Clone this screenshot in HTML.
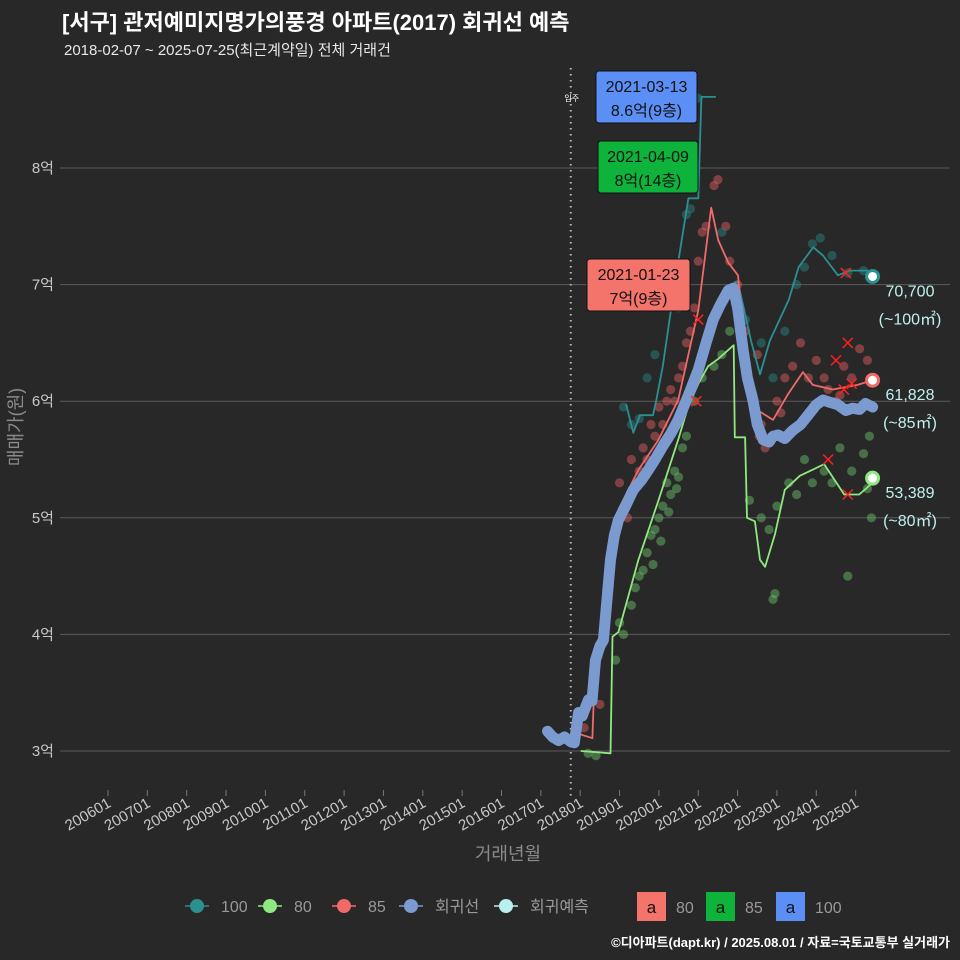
<!DOCTYPE html>
<html><head><meta charset="utf-8">
<style>
html,body{margin:0;padding:0;background:#282829;}
svg{display:block;font-family:"Liberation Sans","Noto Sans CJK KR",sans-serif;}
</style></head>
<body>
<svg id="chart" width="960" height="960" viewBox="0 0 960 960">
<rect width="960" height="960" fill="#282829"/>
<text x="62" y="30" font-size="22" font-weight="bold" fill="#fff">[서구] 관저예미지명가의풍경 아파트(2017) 회귀선 예측</text>
<text x="64" y="55" font-size="15" fill="#e8e8e8">2018-02-07 ~ 2025-07-25(최근계약일) 전체 거래건</text>
<g id="grid"></g>
<g id="yaxis"></g>
<g id="xaxis"></g>
<text transform="translate(22,427) rotate(-90)" text-anchor="middle" font-size="18" fill="#8a8a8a">매매가(원)</text>
<text x="508" y="860" text-anchor="middle" font-size="18" fill="#8a8a8a">거래년월</text>
<g id="marks"></g>
<g id="legend"></g>
<text x="950" y="947" text-anchor="end" font-size="13" font-weight="bold" fill="#fff">©디아파트(dapt.kr) / 2025.08.01 / 자료=국토교통부 실거래가</text>
</svg>
<script>
const yTicks=[3,4,5,6,7,8];
const yTickLabels=['3억','4억','5억','6억','7억','8억'];
const xTickYears=[2006,2007,2008,2009,2010,2011,2012,2013,2014,2015,2016,2017,2018,2019,2020,2021,2022,2023,2024,2025];
const xTickLabels=['200601','200701','200801','200901','201001','201101','201201','201301','201401','201501','201601','201701','201801','201901','202001','202101','202201','202301','202401','202501'];
const trendYears=[2017.17,2017.3,2017.45,2017.6,2017.76,2017.85,2017.96,2018.05,2018.21,2018.3,2018.39,2018.5,2018.59,2018.68,2018.77,2018.87,2018.97,2019.15,2019.35,2019.55,2019.73,2019.9,2020.11,2020.3,2020.49,2020.75,2021.0,2021.2,2021.38,2021.55,2021.76,2021.89,2022.0,2022.14,2022.25,2022.39,2022.5,2022.65,2022.8,2022.9,2023.03,2023.2,2023.4,2023.6,2023.79,2024.0,2024.17,2024.35,2024.55,2024.75,2024.92,2025.1,2025.25,2025.43];
const trendValues=[3.17,3.12,3.09,3.12,3.08,3.07,3.33,3.3,3.44,3.43,3.78,3.9,3.95,4.3,4.64,4.85,4.98,5.1,5.24,5.32,5.41,5.5,5.62,5.72,5.84,6.05,6.27,6.5,6.7,6.82,6.95,6.97,6.8,6.44,6.2,6.01,5.8,5.67,5.65,5.7,5.71,5.68,5.75,5.8,5.88,5.97,6.01,5.99,5.97,5.92,5.94,5.93,5.98,5.95];
const red85Years=[2018.03,2018.31,2018.39,2018.59,2018.72,2018.97,2019.48,2019.99,2020.49,2021.0,2021.33,2021.51,2021.76,2022.01,2022.14,2022.27,2022.52,2022.9,2023.28,2023.66,2023.91,2024.42,2025.05,2025.43];
const red85Values=[3.14,3.11,3.86,3.9,4.64,5.07,5.41,5.67,6.01,6.78,7.66,7.38,7.19,7.08,6.61,6.01,5.92,5.84,6.06,6.25,6.14,6.1,6.14,6.18];
const green80Years=[2018.03,2018.77,2018.82,2018.97,2019.48,2019.99,2020.49,2020.74,2021.0,2021.25,2021.5,2021.9,2021.93,2022.19,2022.24,2022.44,2022.57,2022.7,2022.95,2023.2,2023.58,2024.2,2024.71,2025.09,2025.43];
const green80Values=[3.0,2.98,3.98,4.02,4.64,5.15,5.67,5.95,6.15,6.3,6.36,6.48,5.69,5.69,5.0,4.97,4.64,4.58,4.86,5.24,5.36,5.46,5.2,5.2,5.3];
const teal100Years=[2019.17,2019.35,2019.52,2019.85,2019.93,2020.1,2020.4,2020.75,2021.0,2021.08,2021.43,null,2021.93,2022.01,2022.34,2022.57,2022.82,2023.3,2023.55,2023.92,2024.17,2024.55,2024.85,2025.3];
const teal100Values=[5.97,5.73,5.88,5.88,6.0,6.3,7.0,7.74,7.74,8.61,8.61,null,7.02,7.02,6.52,6.23,6.52,6.87,7.15,7.32,7.25,7.08,7.12,7.12];
const tealDotsY=[2019.1,2019.3,2019.5,2019.7,2019.9,2020.5,2020.7,2020.8,2021.0,2021.6,2022.2,2022.6,2022.9,2023.2,2023.5,2023.7,2023.9,2024.1,2024.4,2024.8,2025.2];
const tealDotsV=[5.95,5.8,5.85,6.2,6.4,6.8,7.6,7.65,8.6,7.45,6.7,6.5,6.2,6.6,7.0,7.15,7.35,7.4,7.25,7.1,7.12];
const redDotsY=[2018.1,2018.5,2018.9,2019.0,2019.2,2019.3,2019.5,2019.6,2019.8,2019.9,2020.0,2020.2,2020.3,2020.5,2020.6,2020.7,2020.9,2021.0,2021.1,2021.2,2021.4,2021.5,2021.7,2021.8,2022.0,2022.2,2022.5,2022.6,2022.7,2023.0,2023.2,2023.4,2023.6,2023.8,2024.0,2024.3,2024.5,2024.7,2024.9,2025.1,2025.3,2025.4,2019.4,2019.7,2020.1,2020.4,2020.8,2022.55,2023.1,2024.2,2024.6];
const redDotsV=[3.2,3.4,4.9,5.3,5.0,5.5,5.4,5.6,5.8,5.7,5.95,6.0,6.1,6.2,6.3,6.5,6.8,7.2,7.45,7.5,7.85,7.9,7.5,7.2,7.0,6.6,6.4,5.8,5.6,6.0,6.2,6.3,6.5,6.2,6.35,6.1,6.0,6.3,6.2,6.45,6.35,6.2,5.25,5.5,5.8,6.0,6.6,5.7,5.9,6.2,6.05];
const greenDotsY=[2018.2,2018.4,2018.9,2019.0,2019.1,2019.3,2019.4,2019.5,2019.6,2019.7,2019.8,2019.9,2020.0,2020.1,2020.2,2020.3,2020.4,2020.5,2020.6,2020.7,2020.9,2021.1,2021.4,2021.6,2021.8,2022.3,2022.6,2022.8,2022.9,2022.95,2023.0,2023.3,2023.5,2023.7,2023.9,2024.2,2024.4,2024.6,2024.8,2024.9,2025.2,2025.3,2025.4,2025.35,2019.85,2020.05,2020.25,2020.45];
const greenDotsV=[2.98,2.96,3.78,4.1,4.0,4.25,4.4,4.5,4.55,4.7,4.85,4.9,5.0,5.1,5.3,5.2,5.4,5.35,5.6,5.7,6.0,6.2,6.3,6.4,6.6,5.15,5.0,4.9,4.3,4.35,5.1,5.3,5.2,5.5,5.3,5.4,5.3,5.6,4.5,5.4,5.55,5.25,5.0,5.7,4.6,4.8,5.05,5.25];
const cancelY=[2021.0,2020.95,2024.3,2024.5,2024.8,2024.75,2024.7,2024.9,2024.8];
const cancelV=[6.7,6.0,5.5,6.35,6.5,7.1,6.1,6.15,5.2];
const endLabels=['70,700','61,828','53,389'];
const endAreas=['(~100㎡)','(~85㎡)','(~80㎡)'];

const NS='http://www.w3.org/2000/svg';
function X(yr){return 108+(yr-2006)*39.35;}
function Y(v){return 751-(v-3)*116.6;}
function mk(tag,attrs,parent){const e=document.createElementNS(NS,tag);for(const k in attrs)e.setAttribute(k,attrs[k]);parent.appendChild(e);return e;}
const grid=document.getElementById('grid'),ya=document.getElementById('yaxis'),xa=document.getElementById('xaxis'),marks=document.getElementById('marks'),leg=document.getElementById('legend');

yTicks.forEach((t,i)=>{
  const l=mk('line',{x1:60,x2:950,y1:Y(t),y2:Y(t),stroke:'#5a5a5a','stroke-width':1},grid);
  
  
  const tx=mk('text',{x:54,y:Y(t)+5,'text-anchor':'end','font-size':15,fill:'#c8c8c8'},ya);
  tx.textContent=yTickLabels[i];
  
  
});
xTickYears.forEach((yr,i)=>{
  const x=X(yr);
  const tk=mk('line',{x1:x,x2:x,y1:790,y2:796,stroke:'#777'},xa);
  
  
  const tx=mk('text',{transform:`translate(${x+4},${806}) rotate(-30)`,'text-anchor':'end','font-size':15,fill:'#c8c8c8'},xa);
  tx.textContent=xTickLabels[i];
  
  
});

const mv=mk('line',{x1:X(2017.76),x2:X(2017.76),y1:68,y2:800,stroke:'#bbb','stroke-width':2,'stroke-dasharray':'1.5 4.5'},marks);


const mvt=mk('text',{x:X(2017.76)+1,y:101,'text-anchor':'middle','font-size':8,fill:'#fff'},marks);
mvt.textContent='입주';



function dots(ys,vs,color,name){
  ys.forEach((yr,i)=>{
    const c=mk('circle',{cx:X(yr),cy:Y(vs[i]),r:4.6,fill:color,'fill-opacity':0.45},marks);
    
    
  });
}
dots(greenDotsY,greenDotsV,'#6cc86c','dot-80');
dots(redDotsY,redDotsV,'#e86060','dot-85');
dots(tealDotsY,tealDotsV,'#2a8a8a','dot-100');

function stepPath(ys,vs){
  let d='',start=true;
  ys.forEach((yr,i)=>{
    if(yr===null){start=true;return;}
    d+=(start?'M':'L')+X(yr).toFixed(1)+','+Y(vs[i]).toFixed(1)+' ';start=false;
  });
  return d;
}
function line(ys,vs,color,w,name){
  const p=mk('path',{d:stepPath(ys,vs),fill:'none',stroke:color,'stroke-width':w,'stroke-linejoin':'round','stroke-linecap':'round'},marks);
  
  
}
line(teal100Years,teal100Values,'#2b9090',1.8,'line-100');
line(green80Years,green80Values,'#90e880',1.8,'line-80');
line(red85Years,red85Values,'#f06a6a',1.8,'line-85');
line(trendYears,trendValues,'#7b9bd0',11,'trend-line');

cancelY.forEach((yr,i)=>{
  const x=X(yr),y=Y(cancelV[i]);
  const g=mk('path',{d:`M${x-5},${y-5}L${x+5},${y+5}M${x+5},${y-5}L${x-5},${y+5}`,stroke:'#ff2020','stroke-width':1.5},marks);
  
  
});

const endColors=['#2b9090','#f06a6a','#90e880'];
const endVals=[7.07,6.18,5.34];
endVals.forEach((v,i)=>{
  const x=X(2025.43),y=Y(v);
  const c=mk('circle',{cx:x,cy:y,r:6,fill:'#fff',stroke:endColors[i],'stroke-width':3},marks);
  
  
  const t1=mk('text',{x:910,y:y+20,'text-anchor':'middle','font-size':16,fill:'#bff0ee'},marks);
  t1.textContent=endLabels[i];
  
  
  const t2=mk('text',{x:910,y:y+48,'text-anchor':'middle','font-size':16,fill:'#bff0ee'},marks);
  t2.textContent=endAreas[i];
  
  
});

const boxX=[596,598,587],boxY=[71,141,259],boxW=[101,100,103],boxC=['#5b8ff5','#0db33a','#f4736b'];
const boxL1=['2021-03-13','2021-04-09','2021-01-23'],boxL2=['8.6억(9층)','8억(14층)','7억(9층)'];
boxX.forEach((bx,i)=>{
  const r=mk('rect',{x:bx,y:boxY[i],width:boxW[i],height:52,rx:3,fill:boxC[i],stroke:'#111','stroke-width':1},marks);
  
  
  const a=mk('text',{x:bx+boxW[i]/2,y:boxY[i]+21,'text-anchor':'middle','font-size':16,fill:'#111'},marks);
  a.textContent=boxL1[i];
  
  
  const b=mk('text',{x:bx+boxW[i]/2,y:boxY[i]+45,'text-anchor':'middle','font-size':16,fill:'#111'},marks);
  b.textContent=boxL2[i];
  
  
});

const legX=[197,270,344,411,506],legC=['#2b9090','#90e880','#f06a6a','#7b9bd0','#b8f0f0'],legT=['100','80','85','회귀선','회귀예측'];
legX.forEach((x,i)=>{
  const l=mk('line',{x1:x-12,x2:x+12,y1:906,y2:906,stroke:legC[i],'stroke-width':1.5},leg);
  
  
  const c=mk('circle',{cx:x,cy:906,r:7,fill:legC[i]},leg);
  
  
  const t=mk('text',{x:x+24,y:912,'font-size':16,fill:'#999'},leg);
  t.textContent=legT[i];
  
  
});
const lbX=[637,706,776],lbC=['#f4736b','#0db33a','#5b8ff5'],lbT=['80','85','100'];
lbX.forEach((x,i)=>{
  const r=mk('rect',{x:x,y:892,width:29,height:29,fill:lbC[i]},leg);
  
  
  const a=mk('text',{x:x+14.5,y:913,'text-anchor':'middle','font-size':17,fill:'#111'},leg);
  a.textContent='a';
  
  
  const t=mk('text',{x:x+39,y:913,'font-size':16,fill:'#999'},leg);
  t.textContent=lbT[i];
  
  
});
</script>
</body></html>
